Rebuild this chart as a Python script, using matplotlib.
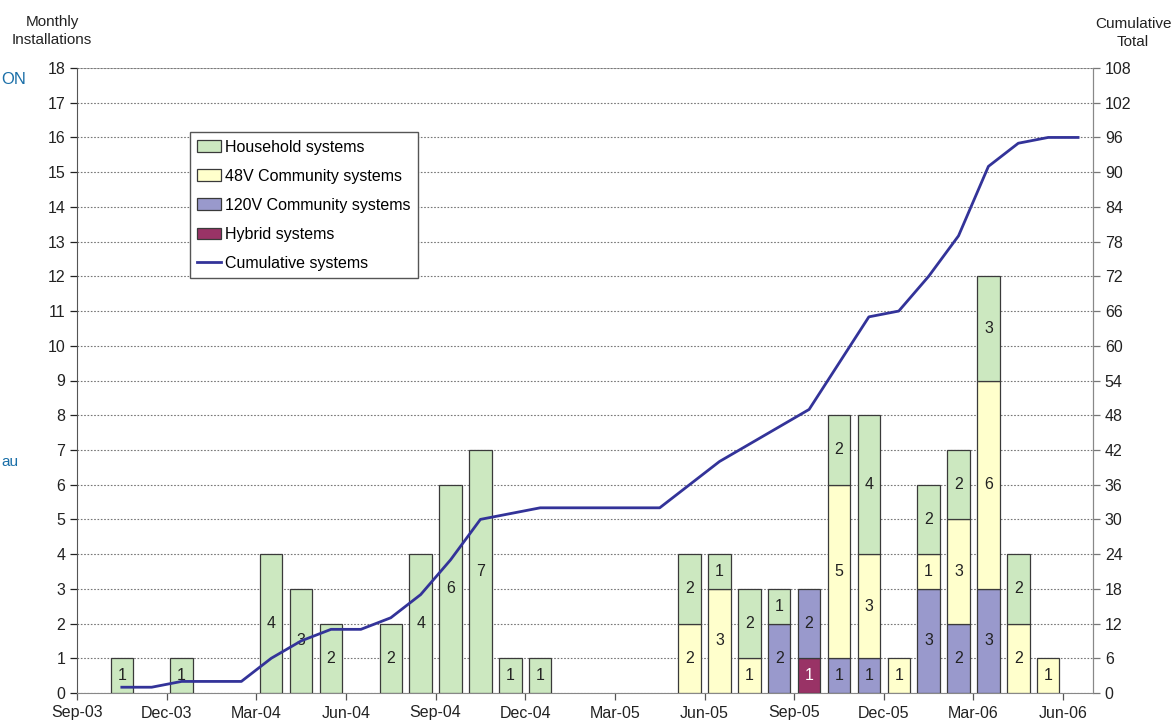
import numpy as np
import matplotlib
matplotlib.use('Agg')
import matplotlib.pyplot as plt

plt.rcParams['font.family'] = ['Liberation Sans', 'DejaVu Sans']

# month categories, Sep-03 .. Jun-06 (34 months)
months = ['Sep-03', 'Oct-03', 'Nov-03', 'Dec-03', 'Jan-04', 'Feb-04', 'Mar-04', 'Apr-04',
          'May-04', 'Jun-04', 'Jul-04', 'Aug-04', 'Sep-04', 'Oct-04', 'Nov-04', 'Dec-04',
          'Jan-05', 'Feb-05', 'Mar-05', 'Apr-05', 'May-05', 'Jun-05', 'Jul-05', 'Aug-05',
          'Sep-05', 'Oct-05', 'Nov-05', 'Dec-05', 'Jan-06', 'Feb-06', 'Mar-06', 'Apr-06',
          'May-06', 'Jun-06']

hybrid    = [0, 0, 0, 0, 0, 0, 0, 0, 0, 0, 0, 0, 0, 0, 0, 0, 0, 0, 0, 0,
             0, 0, 0, 0, 1, 0, 0, 0, 0, 0, 0, 0, 0, 0]
comm_120v = [0, 0, 0, 0, 0, 0, 0, 0, 0, 0, 0, 0, 0, 0, 0, 0, 0, 0, 0, 0,
             0, 0, 0, 2, 2, 1, 1, 0, 3, 2, 3, 0, 0, 0]
comm_48v  = [0, 0, 0, 0, 0, 0, 0, 0, 0, 0, 0, 0, 0, 0, 0, 0, 0, 0, 0, 0,
             2, 3, 1, 0, 0, 5, 3, 1, 1, 3, 6, 2, 1, 0]
household = [0, 1, 0, 1, 0, 0, 4, 3, 2, 0, 2, 4, 6, 7, 1, 1, 0, 0, 0, 0,
             2, 1, 2, 1, 0, 2, 4, 0, 2, 2, 3, 2, 0, 0]

# cumulative systems, Oct-03 .. Jun-06
cum_months = months[1:]
cumulative = [1, 1, 2, 2, 2, 6, 9, 11, 11, 13, 17, 23, 30, 31, 32, 32, 32, 32, 32,
              36, 40, 43, 46, 49, 57, 65, 66, 72, 79, 91, 95, 96, 96]

tick_labels = ['Sep-03', 'Dec-03', 'Mar-04', 'Jun-04', 'Sep-04', 'Dec-04',
               'Mar-05', 'Jun-05', 'Sep-05', 'Dec-05', 'Mar-06', 'Jun-06']

series = [
    ('Hybrid systems', hybrid, '#993366', 'white'),
    ('120V Community systems', comm_120v, '#9999cc', '#222222'),
    ('48V Community systems', comm_48v, '#ffffcc', '#222222'),
    ('Household systems', household, '#cce8c0', '#222222'),
]

fig = plt.figure(figsize=(11.72, 7.26), dpi=100)
ax = fig.add_axes([77 / 1172, 33 / 726, 1016 / 1172, 625 / 726])

x = np.arange(len(months)) + 0.5
bottom = np.zeros(len(months))
handles = {}
for name, vals, color, tcol in series:
    vals = np.array(vals, dtype=float)
    m = vals > 0
    b = ax.bar(x[m], vals[m], bottom=bottom[m], width=0.75, color=color,
               edgecolor='#3a3a3a', linewidth=0.9, label=name, zorder=3)
    handles[name] = b
    for xi, v, b0 in zip(x[m], vals[m], bottom[m]):
        ax.text(xi, b0 + v / 2, '%d' % v, ha='center', va='center',
                fontsize=11.5, color=tcol, zorder=5)
    bottom += vals

ax.set_xlim(0, 34)
ax.set_ylim(0, 18)
ax.set_yticks(range(0, 19))
ax.set_xticks(np.arange(0, 34, 3))
ax.set_xticklabels(tick_labels)
ax.grid(axis='y', linestyle=(0, (1.5, 1.5)), color='#777777', linewidth=0.8, zorder=0)
ax.axhline(18, color='#aaaaaa', linewidth=1.2, zorder=1)
ax.tick_params(axis='both', labelsize=11.5, colors='#222222', length=5, width=0.9,
               direction='out')
ax.tick_params(axis='x', pad=4, colors='#555555', labelcolor='#222222')
ax.spines['top'].set_visible(False)
ax.spines['left'].set_color('#555555')
ax.spines['bottom'].set_color('#888888')
ax.spines['right'].set_color('#888888')

ax2 = ax.twinx()
ax2.set_ylim(0, 108)
ax2.set_yticks(range(0, 109, 6))
xc = np.arange(1, len(cum_months) + 1) + 0.5
line, = ax2.plot(xc, cumulative, color='#333399', linewidth=2, zorder=4,
                 label='Cumulative systems')
ax2.tick_params(axis='y', labelsize=11.5, colors='#777777', labelcolor='#222222',
                length=5, width=0.9)
ax2.spines['top'].set_visible(False)
ax2.spines['right'].set_color('#888888')
ax2.spines['left'].set_visible(False)
ax2.spines['bottom'].set_visible(False)

leg_order = ['Household systems', '48V Community systems', '120V Community systems',
             'Hybrid systems']
leg = ax2.legend([handles[n] for n in leg_order] + [line], leg_order + ['Cumulative systems'],
                 loc='upper left', bbox_to_anchor=(0.111, 0.897), borderaxespad=0,
                 fontsize=11.5, frameon=True, fancybox=False, edgecolor='#555555',
                 framealpha=1, handlelength=1.5, handleheight=0.7, handletextpad=0.25,
                 labelspacing=0.88, borderpad=0.45)
leg.get_frame().set_linewidth(1.0)

fig.text(52 / 1172, 1 - 31 / 726, 'Monthly\nInstallations', ha='center', va='center',
         fontsize=11, color='#222222', linespacing=1.3)
fig.text(1133 / 1172, 1 - 33 / 726, 'Cumulative\nTotal', ha='center', va='center',
         fontsize=11, color='#222222', linespacing=1.3)
fig.text(0.001, 1 - 80 / 726, 'ON', ha='left', va='center', fontsize=12, color='#1a6fa8')
fig.text(0.001, 1 - 462 / 726, 'au', ha='left', va='center', fontsize=11, color='#1a6fa8')

fig.savefig('out.png', dpi=100)
